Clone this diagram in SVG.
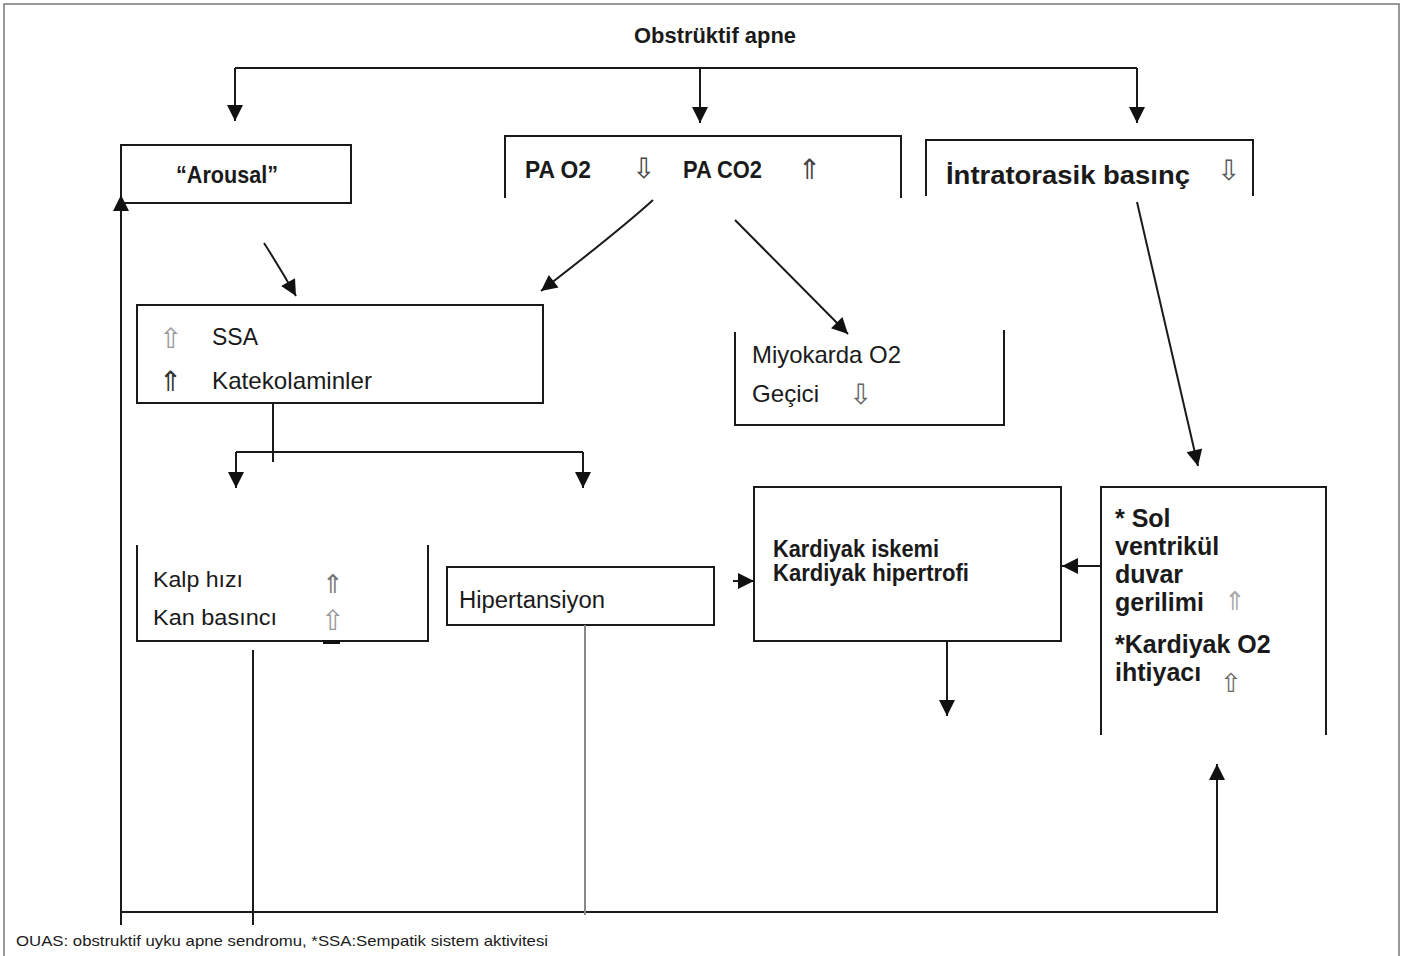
<svg xmlns="http://www.w3.org/2000/svg" width="1404" height="956" viewBox="0 0 1404 956">
<defs>
<style>
.ln{fill:none;stroke:#1a1a1a;stroke-width:2}
.gl{fill:none;stroke:#888;stroke-width:2}
.bx{fill:#fff;stroke:#1a1a1a;stroke-width:2}
.t{font-family:"Liberation Sans",Arial,sans-serif;fill:#1a1a1a}
.b{font-weight:bold}
.sy{font-family:"DejaVu Sans",sans-serif;fill:#999}
</style>
<marker id="ah" viewBox="0 0 10 10" refX="10" refY="5" markerWidth="18" markerHeight="16" markerUnits="userSpaceOnUse" orient="auto">
<path d="M0,0 L10,5 L0,10 Z" fill="#111"/>
</marker>
</defs>
<rect x="0" y="0" width="1404" height="956" fill="#fff"/>
<path d="M4,956 V4 H1399 V956" fill="none" stroke="#777" stroke-width="1.5"/>

<g id="title"><text class="t b" x="634" y="43" font-size="22" textLength="162" lengthAdjust="spacingAndGlyphs">Obstrüktif apne</text></g>

<g id="arousal">
<rect class="bx" x="121" y="145" width="230" height="58"/>
<text class="t b" x="176" y="183" font-size="24" textLength="102" lengthAdjust="spacingAndGlyphs">“Arousal”</text>
</g>

<g id="pa">
<path class="ln" d="M505,198 V136 H901 V198"/>
<text class="t b" x="525" y="178" font-size="24" textLength="66" lengthAdjust="spacingAndGlyphs">PA O2</text>
<text class="sy" x="632" y="178" font-size="28" style="fill:#444">⇩</text>
<text class="t b" x="683" y="178" font-size="24" textLength="79" lengthAdjust="spacingAndGlyphs">PA CO2</text>
<text class="sy" x="798" y="179" font-size="28" style="fill:#444">⇑</text>
</g>

<g id="intratorasik">
<path class="ln" d="M926,196 V140 H1253 V196"/>
<text class="t b" x="946" y="184" font-size="26" textLength="244" lengthAdjust="spacingAndGlyphs">İntratorasik basınç</text>
<text class="sy" x="1217" y="180" font-size="28" style="fill:#555">⇩</text>
</g>

<g id="ssa">
<rect class="bx" x="137" y="305" width="406" height="98"/>
<text class="sy" x="159" y="348" font-size="28">⇧</text>
<text class="t" x="212" y="345" font-size="24" textLength="46" lengthAdjust="spacingAndGlyphs">SSA</text>
<text class="sy" x="159" y="391" font-size="28" style="fill:#333">⇑</text>
<text class="t" x="212" y="389" font-size="24" textLength="160" lengthAdjust="spacingAndGlyphs">Katekolaminler</text>
</g>

<g id="miyokard">
<path class="ln" d="M735,332 V425 H1004 V330"/>
<text class="t" x="752" y="363" font-size="24" textLength="149" lengthAdjust="spacingAndGlyphs">Miyokarda O2</text>
<text class="t" x="752" y="402" font-size="24" textLength="67" lengthAdjust="spacingAndGlyphs">Geçici</text>
<text class="sy" x="849" y="404" font-size="28" style="fill:#666">⇩</text>
</g>

<g id="kalp">
<path class="ln" d="M137,545 V641 H428 V545"/>
<rect x="323" y="640" width="17" height="4" fill="#111"/>
<text class="t" x="153" y="587" font-size="22" textLength="90" lengthAdjust="spacingAndGlyphs">Kalp hızı</text>
<text class="t" x="153" y="625" font-size="22" textLength="124" lengthAdjust="spacingAndGlyphs">Kan basıncı</text>
<text class="sy" x="322" y="593" font-size="26" style="fill:#777">⇑</text>
<text class="sy" x="321" y="630" font-size="28">⇧</text>
</g>

<g id="hipertansiyon">
<rect class="bx" x="447" y="567" width="267" height="58"/>
<text class="t" x="459" y="608" font-size="23" textLength="146" lengthAdjust="spacingAndGlyphs">Hipertansiyon</text>
</g>

<g id="kardiyak">
<rect class="bx" x="754" y="487" width="307" height="154"/>
<text class="t b" x="773" y="557" font-size="23" textLength="166" lengthAdjust="spacingAndGlyphs">Kardiyak iskemi</text>
<text class="t b" x="773" y="581" font-size="23" textLength="196" lengthAdjust="spacingAndGlyphs">Kardiyak hipertrofi</text>
</g>

<g id="sol">
<path class="ln" d="M1101,735 V487 H1326 V735"/>
<text class="t b" font-size="25">
<tspan x="1115" y="527">* Sol</tspan>
<tspan x="1115" y="555">ventrikül</tspan>
<tspan x="1115" y="583">duvar</tspan>
<tspan x="1115" y="611">gerilimi</tspan>
<tspan x="1115" y="653">*Kardiyak O2</tspan>
<tspan x="1115" y="681">ihtiyacı</tspan>
</text>
<text class="sy" x="1224" y="610" font-size="26" style="fill:#aaa">⇑</text>
<text class="sy" x="1220" y="692" font-size="26" style="fill:#666">⇧</text>
</g>

<g id="connectors">
<path class="ln" d="M235,68 H1137"/>
<path class="ln" d="M235,68 V121" marker-end="url(#ah)"/>
<path class="ln" d="M700,68 V123" marker-end="url(#ah)"/>
<path class="ln" d="M1137,68 V123" marker-end="url(#ah)"/>
<path class="ln" d="M264,243 Q280,268 296,296" marker-end="url(#ah)"/>
<path class="ln" d="M653,200 Q620,230 541,291" marker-end="url(#ah)"/>
<path class="ln" d="M735,220 L848,334" marker-end="url(#ah)"/>
<path class="ln" d="M1137,202 L1198,466" marker-end="url(#ah)"/>
<path class="ln" d="M273,403 V462"/>
<path class="ln" d="M236,452 H583"/>
<path class="ln" d="M236,452 V488" marker-end="url(#ah)"/>
<path class="ln" d="M583,452 V488" marker-end="url(#ah)"/>
<path class="ln" d="M1101,566 H1062" marker-end="url(#ah)"/>
<path class="ln" d="M733,581 H754" marker-end="url(#ah)"/>
<path class="ln" d="M947,641 V716" marker-end="url(#ah)"/>
<path class="ln" d="M121,925 V195" marker-end="url(#ah)"/>
<path class="ln" d="M121,912 H1217 V764" marker-end="url(#ah)"/>
<path class="ln" d="M253,650 V925"/>
<path class="gl" d="M585,625 V915"/>
</g>

<g id="footnote"><text class="t" x="16" y="946" font-size="15" textLength="532" lengthAdjust="spacingAndGlyphs">OUAS: obstruktif uyku apne sendromu, *SSA:Sempatik sistem aktivitesi</text></g>
</svg>
